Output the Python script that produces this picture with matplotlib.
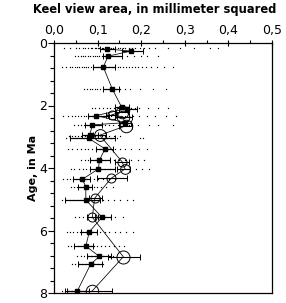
import matplotlib
matplotlib.use("Agg")
import matplotlib.pyplot as plt
from matplotlib.ticker import MultipleLocator, FuncFormatter

# ---- data ----
# filled-square series: age (Ma), mean area, error bar low, error bar high
sq_age = [0.19, 0.26, 0.42, 0.77, 1.48, 2.05, 2.10, 2.32, 2.55, 2.62, 2.95, 3.05, 3.39, 3.75, 4.03, 4.36, 4.60, 5.02, 5.58, 6.04, 6.50, 6.83, 7.08, 7.95]
sq_val = [0.121, 0.176, 0.124, 0.113, 0.134, 0.155, 0.167, 0.097, 0.162, 0.088, 0.082, 0.080, 0.117, 0.104, 0.102, 0.065, 0.073, 0.073, 0.110, 0.081, 0.073, 0.104, 0.084, 0.053]
sq_lo  = [0.106, 0.155, 0.112, 0.090, 0.113, 0.140, 0.150, 0.078, 0.150, 0.070, 0.065, 0.037, 0.097, 0.083, 0.083, 0.044, 0.055, 0.025, 0.095, 0.063, 0.045, 0.075, 0.055, 0.030]
sq_hi  = [0.140, 0.205, 0.155, 0.140, 0.150, 0.172, 0.190, 0.125, 0.176, 0.110, 0.100, 0.140, 0.135, 0.128, 0.140, 0.083, 0.087, 0.105, 0.130, 0.098, 0.090, 0.130, 0.110, 0.080]

# open-circle series: age, value, error bar low, error bar high, marker size
ci_age = [2.20, 2.30, 2.36, 2.65, 2.95, 3.80, 4.03, 4.33, 4.97, 5.58, 6.84, 7.93]
ci_val = [0.155, 0.132, 0.158, 0.165, 0.105, 0.156, 0.163, 0.131, 0.093, 0.088, 0.159, 0.088]
ci_lo  = [0.140, 0.120, 0.140, 0.150, 0.090, 0.140, 0.144, 0.098, 0.080, 0.075, 0.124, 0.025]
ci_hi  = [0.172, 0.145, 0.178, 0.180, 0.120, 0.172, 0.174, 0.167, 0.110, 0.100, 0.197, 0.133]
ci_size = [9.0, 6.5, 9.0, 9.0, 8.5, 6.5, 7.0, 6.5, 6.5, 6.5, 9.4, 9.0]

# individual specimens, one list per sample level
dot_age = [0.17, 0.42, 0.77, 1.48, 2.08, 2.32, 2.62, 2.97, 3.05, 3.39, 3.75, 4.03, 4.36, 4.60, 5.02, 5.58, 6.04, 6.50, 6.83, 7.08, 7.95]
dots = [
    [0.022, 0.037, 0.051, 0.058, 0.066, 0.071, 0.079, 0.084, 0.088, 0.093, 0.097, 0.101, 0.104, 0.109, 0.113, 0.118, 0.122, 0.127, 0.131, 0.136, 0.141, 0.147, 0.152, 0.158, 0.163, 0.171, 0.178, 0.186, 0.197, 0.206, 0.218, 0.231, 0.262, 0.289, 0.322, 0.358, 0.377],
    [0.048, 0.054, 0.061, 0.066, 0.072, 0.077, 0.083, 0.089, 0.094, 0.099, 0.104, 0.111, 0.116, 0.121, 0.128, 0.134, 0.141, 0.147, 0.156, 0.168, 0.183, 0.199, 0.214, 0.238],
    [0.018, 0.027, 0.036, 0.042, 0.048, 0.053, 0.058, 0.064, 0.069, 0.074, 0.079, 0.085, 0.091, 0.096, 0.102, 0.107, 0.113, 0.119, 0.126, 0.134, 0.139, 0.146, 0.152, 0.158, 0.165, 0.171, 0.178, 0.186, 0.193, 0.202, 0.211, 0.223, 0.236, 0.252, 0.274],
    [0.068, 0.075, 0.082, 0.088, 0.093, 0.099, 0.106, 0.113, 0.119, 0.127, 0.134, 0.142, 0.151, 0.163, 0.174, 0.198, 0.226, 0.258],
    [0.088, 0.095, 0.104, 0.112, 0.121, 0.129, 0.137, 0.146, 0.153, 0.161, 0.169, 0.177, 0.186, 0.196, 0.215, 0.238, 0.262],
    [0.021, 0.031, 0.042, 0.049, 0.056, 0.062, 0.068, 0.074, 0.081, 0.088, 0.094, 0.101, 0.108, 0.115, 0.123, 0.131, 0.139, 0.146, 0.154, 0.163, 0.171, 0.181, 0.196, 0.213, 0.232, 0.256, 0.279],
    [0.046, 0.054, 0.061, 0.068, 0.075, 0.082, 0.089, 0.096, 0.104, 0.111, 0.118, 0.127, 0.136, 0.146, 0.159, 0.171, 0.192, 0.217, 0.238, 0.274],
    [0.034, 0.042, 0.049, 0.056, 0.063, 0.071, 0.078, 0.086, 0.094, 0.101, 0.109, 0.117, 0.126, 0.138, 0.152],
    [0.028, 0.036, 0.045, 0.053, 0.061, 0.069, 0.076, 0.085, 0.093, 0.102, 0.111, 0.121, 0.131, 0.144, 0.197, 0.204],
    [0.032, 0.041, 0.052, 0.061, 0.071, 0.079, 0.088, 0.097, 0.106, 0.116, 0.124, 0.131, 0.139, 0.151, 0.163, 0.177, 0.194, 0.213],
    [0.062, 0.071, 0.079, 0.086, 0.093, 0.101, 0.109, 0.118, 0.127, 0.137, 0.149, 0.162, 0.176, 0.192, 0.207],
    [0.038, 0.047, 0.058, 0.066, 0.074, 0.082, 0.091, 0.099, 0.108, 0.118, 0.129, 0.141, 0.156, 0.171, 0.188, 0.201, 0.219],
    [0.021, 0.029, 0.037, 0.044, 0.051, 0.058, 0.066, 0.074, 0.082, 0.091, 0.101, 0.113, 0.126, 0.141],
    [0.038, 0.046, 0.053, 0.061, 0.068, 0.076, 0.083, 0.091, 0.099, 0.108, 0.119, 0.136],
    [0.019, 0.027, 0.036, 0.044, 0.052, 0.061, 0.069, 0.077, 0.086, 0.094, 0.103, 0.113, 0.124, 0.137, 0.152, 0.168, 0.182],
    [0.049, 0.058, 0.067, 0.076, 0.086, 0.095, 0.105, 0.116, 0.128, 0.141, 0.158],
    [0.029, 0.036, 0.044, 0.052, 0.059, 0.066, 0.074, 0.081, 0.089, 0.097, 0.106, 0.116, 0.127, 0.139, 0.151, 0.166, 0.181],
    [0.031, 0.039, 0.047, 0.055, 0.062, 0.069, 0.077, 0.084, 0.092, 0.099, 0.108, 0.117, 0.127, 0.138, 0.149, 0.161],
    [0.052, 0.061, 0.069, 0.077, 0.086, 0.094, 0.103, 0.112, 0.123, 0.136],
    [0.041, 0.049, 0.057, 0.065, 0.074, 0.083, 0.092, 0.101, 0.112],
    [0.019, 0.026, 0.033, 0.041, 0.048, 0.055, 0.062, 0.069, 0.077, 0.086],
]

x_ticks = [0.0, 0.1, 0.2, 0.3, 0.4, 0.5]
y_ticks = [0, 2, 4, 6, 8]

# ---- figure ----
fig = plt.figure(figsize=(2.86, 3.03), dpi=100)
ax = fig.add_axes([54/286, 1 - 293/303, 218/286, 250/303])

for a, vals in zip(dot_age, dots):
    ax.plot(vals, [a] * len(vals), linestyle="none", marker="s", markersize=0.85,
            markeredgewidth=0, color="black")

# open circles
ax.plot(ci_val, ci_age, color="black", lw=0.55)
ax.errorbar(ci_val, ci_age,
            xerr=[[v - l for v, l in zip(ci_val, ci_lo)], [h - v for v, h in zip(ci_val, ci_hi)]],
            fmt="none", ecolor="black", elinewidth=0.8, capsize=2.5, capthick=0.7)
for v, a, s in zip(ci_val, ci_age, ci_size):
    ax.plot(v, a, marker="o", markersize=s, markerfacecolor="none",
            markeredgecolor="black", markeredgewidth=0.7)

# filled squares
ax.plot(sq_val, sq_age, color="black", lw=0.55)
ax.errorbar(sq_val, sq_age,
            xerr=[[v - l for v, l in zip(sq_val, sq_lo)], [h - v for v, h in zip(sq_val, sq_hi)]],
            fmt="s", color="black", markersize=2.3, elinewidth=0.85,
            capsize=2.5, capthick=0.7)

ax.set_xlim(0, 0.5)
ax.set_ylim(8, 0)
ax.xaxis.tick_top()
ax.set_xticks(x_ticks)
ax.xaxis.set_minor_locator(MultipleLocator(0.05))
ax.set_yticks(y_ticks)
ax.yaxis.set_minor_locator(MultipleLocator(0.4))
ax.xaxis.set_major_formatter(FuncFormatter(lambda v, p: f"{v:.1f}".replace(".", ",")))
ax.tick_params(axis="x", which="major", direction="inout", length=5, width=0.8, labelsize=9, pad=2)
ax.tick_params(axis="x", which="minor", direction="out", length=2, width=0.8)
ax.tick_params(axis="y", which="major", direction="out", length=4, width=0.8, labelsize=9, pad=1)
ax.tick_params(axis="y", which="minor", direction="out", length=3, width=0.8)
for s in ax.spines.values():
    s.set_linewidth(0.9)

fig.text(155/286, 1 - 9/303, "Keel view area, in millimeter squared", ha="center", va="center",
         fontsize=8.3, fontweight="bold")
fig.text(33/286, 1 - 168/303, "Age, in Ma", ha="center", va="center", rotation=90,
         fontsize=8, fontweight="bold")

fig.savefig("out.png", dpi=100)
